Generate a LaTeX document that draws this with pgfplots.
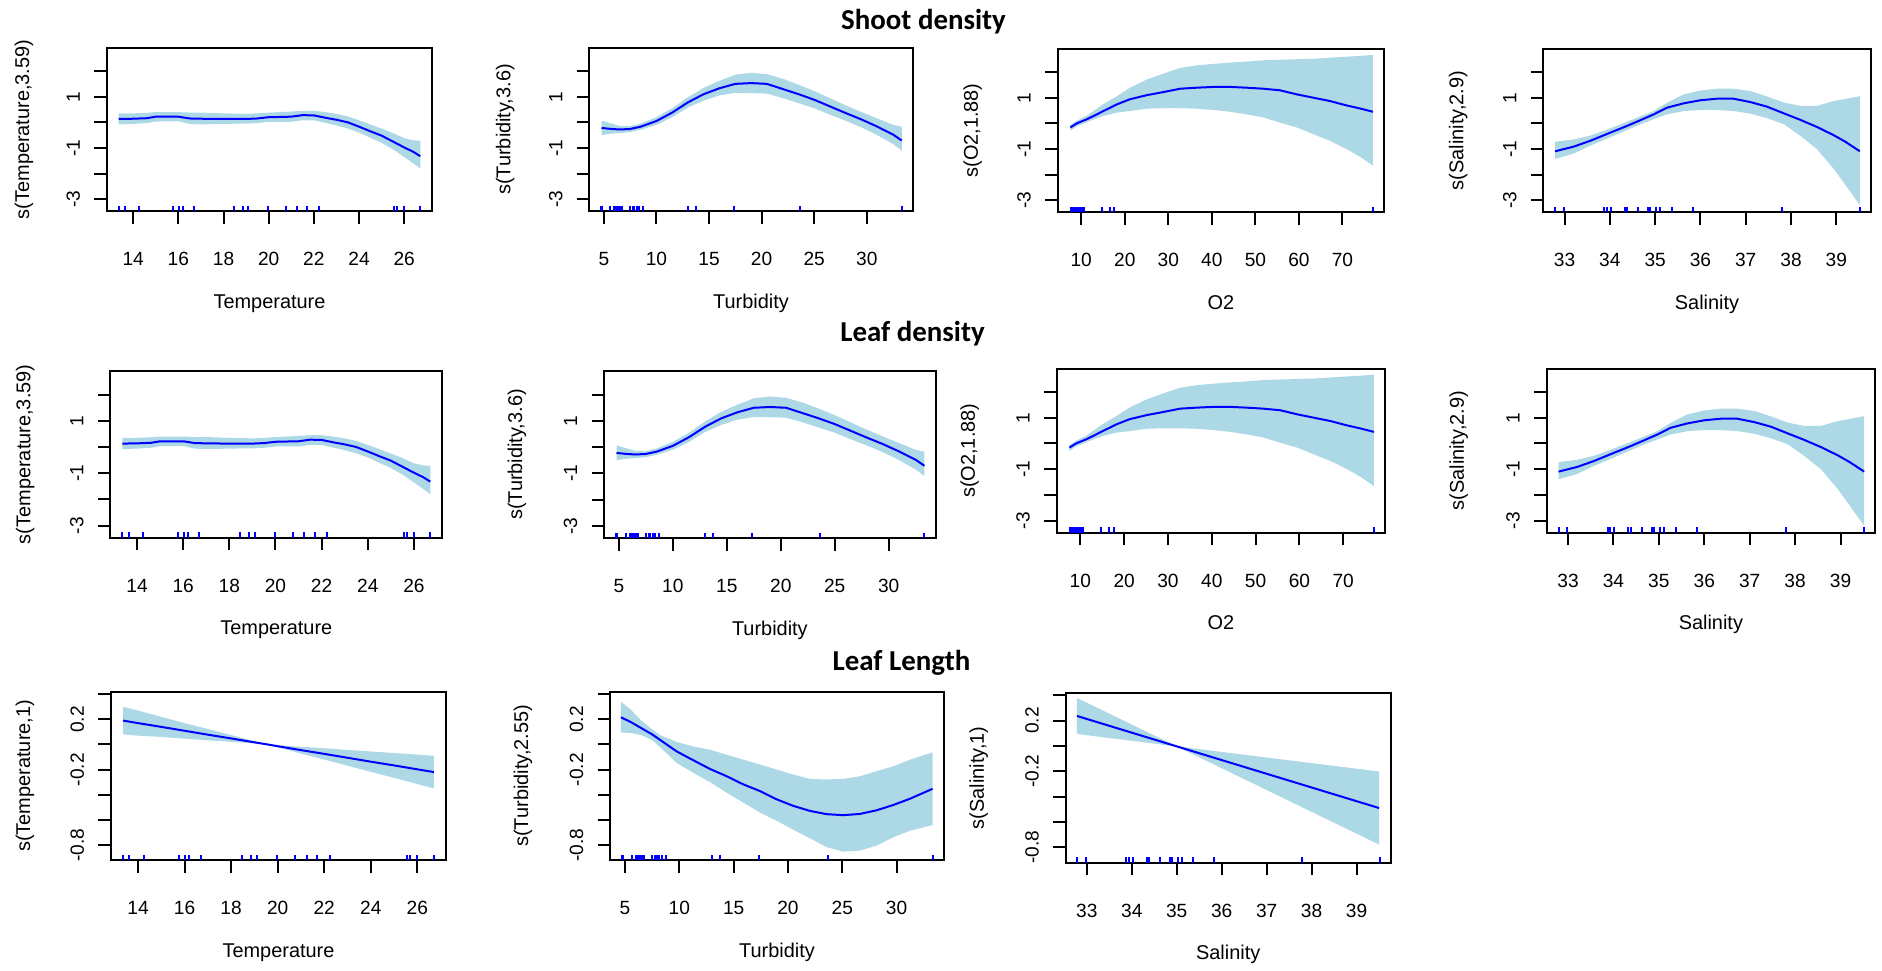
\documentclass[border=0pt]{standalone}
\usepackage{pgfplots}
\pgfplotsset{compat=1.18}
\usepackage{pgfplotstable}
\usepackage{fontspec}
\setmainfont{Liberation Sans}
\newfontfamily\titlefont{Carlito}
\definecolor{band}{RGB}{173,216,230}
\definecolor{fitblue}{RGB}{0,0,255}
\pgfdeclareplotmark{rug}{\pgfpathmoveto{\pgfpointorigin}\pgfpathlineto{\pgfpoint{0pt}{2.75bp}}\pgfusepathqstroke}

% ---------------- fitted smooths ----------------
\pgfplotstableread{
x fit
13.36 0.13
14.0 0.14
14.6 0.16
15.0 0.22
16.0 0.22
16.5 0.15
17.0 0.14
18.0 0.13
19.0 0.13
19.5 0.15
20.0 0.20
21.0 0.22
21.5 0.28
22.0 0.27
22.5 0.18
23.0 0.10
23.5 0.00
24.0 -0.17
24.5 -0.35
25.0 -0.52
25.5 -0.75
26.0 -0.98
26.4 -1.15
26.71 -1.32
}\tabTemp
\pgfplotstableread{
x y
13.36 0.35
14.0 0.35
14.6 0.37
15.0 0.40
16.0 0.40
16.5 0.38
17.0 0.38
18.0 0.35
19.0 0.33
19.5 0.35
20.0 0.38
21.0 0.42
21.5 0.45
22.0 0.45
22.5 0.40
23.0 0.33
23.5 0.23
24.0 0.08
24.5 -0.08
25.0 -0.25
25.5 -0.42
26.0 -0.62
26.4 -0.70
26.71 -0.72
26.71 -1.80
26.4 -1.60
26.0 -1.35
25.5 -1.05
25.0 -0.80
24.5 -0.60
24.0 -0.40
23.5 -0.24
23.0 -0.12
22.5 -0.02
22.0 0.08
21.5 0.08
21.0 0.02
20.0 0.02
19.5 -0.03
19.0 -0.05
18.0 -0.06
17.0 -0.08
16.5 -0.06
16.0 0.04
15.0 0.03
14.6 -0.03
14.0 -0.06
13.36 -0.08
}\bandTemp

\pgfplotstableread{
x fit
4.78 -0.22
5.5 -0.25
6.5 -0.28
7.5 -0.26
8.5 -0.17
10 0.05
11.5 0.38
13 0.78
14.5 1.10
16 1.33
17.5 1.50
19 1.53
20.5 1.50
22 1.30
23.5 1.10
25 0.88
26.5 0.62
28 0.36
29.5 0.11
31 -0.17
32.5 -0.48
33.32 -0.71
}\tabTurb
\pgfplotstableread{
x y
4.78 0.07
5.5 -0.02
6.5 -0.14
7.5 -0.15
8.5 -0.05
10 0.20
11.5 0.55
13 0.98
14.5 1.35
16 1.62
17.5 1.86
19 1.93
20.5 1.88
22 1.70
23.5 1.47
25 1.22
26.5 0.94
28 0.66
29.5 0.40
31 0.15
32.5 -0.10
33.32 -0.17
33.32 -1.10
32.5 -0.85
31 -0.50
29.5 -0.20
28 0.06
26.5 0.30
25 0.55
23.5 0.75
22 0.95
20.5 1.12
19 1.14
17.5 1.15
16 1.05
14.5 0.85
13 0.58
11.5 0.20
10 -0.10
8.5 -0.29
7.5 -0.38
6.5 -0.42
5.5 -0.45
4.78 -0.50
}\bandTurb

\pgfplotstableread{
x fit
7.5 -0.16
9 0.00
11.3 0.16
13 0.30
15.1 0.48
18.2 0.74
21.2 0.94
25.1 1.10
28.9 1.22
32.7 1.35
36.5 1.39
40.4 1.42
44.2 1.42
48 1.39
51.8 1.35
55.6 1.29
59.5 1.13
63.3 1.00
67.1 0.87
70.9 0.70
74 0.58
77.0 0.45
}\tabOxy
\pgfplotstableread{
x y
7.5 -0.07
9 0.10
11.3 0.30
13 0.50
15.1 0.75
18.2 1.06
21.2 1.39
25.1 1.71
28.9 1.94
32.7 2.16
36.5 2.26
40.4 2.32
44.2 2.37
48 2.41
51.8 2.46
55.6 2.48
59.5 2.50
63.3 2.52
67.1 2.56
70.9 2.60
74 2.63
77.0 2.67
77.0 -1.65
74 -1.30
70.9 -1.00
67.1 -0.68
63.3 -0.42
59.5 -0.16
55.6 0.03
51.8 0.23
48 0.35
44.2 0.45
40.4 0.52
36.5 0.57
32.7 0.59
28.9 0.59
25.1 0.57
21.2 0.48
18.2 0.42
15.1 0.29
13 0.16
11.3 0.05
9 -0.12
7.5 -0.29
}\bandOxy

\pgfplotstableread{
x fit
32.79 -1.09
33.2 -0.91
33.57 -0.68
33.93 -0.42
34.38 -0.10
34.67 0.12
34.97 0.35
35.26 0.61
35.63 0.78
36.0 0.90
36.36 0.96
36.73 0.96
37.1 0.83
37.47 0.65
37.84 0.39
38.2 0.14
38.57 -0.14
38.94 -0.46
39.2 -0.72
39.52 -1.09
}\tabSal
\pgfplotstableread{
x y
32.79 -0.72
33.2 -0.63
33.57 -0.48
33.93 -0.25
34.38 0.06
34.67 0.27
34.97 0.48
35.26 0.80
35.63 1.13
36.0 1.28
36.36 1.35
36.73 1.35
37.1 1.26
37.47 1.05
37.84 0.81
38.2 0.68
38.57 0.68
38.94 0.87
39.2 0.95
39.52 1.06
39.52 -3.19
39.2 -2.40
38.94 -1.77
38.57 -1.00
38.2 -0.48
37.84 -0.03
37.47 0.20
37.1 0.38
36.73 0.48
36.36 0.52
36.0 0.52
35.63 0.48
35.26 0.35
34.97 0.16
34.67 -0.04
34.38 -0.26
33.93 -0.60
33.57 -0.87
33.2 -1.18
32.79 -1.39
}\bandSal

\pgfplotstableread{
x fit
13.36 0.190
14 0.170
15 0.140
16 0.109
17 0.078
18 0.048
19 0.017
19.5 0.002
20 -0.014
21 -0.045
22 -0.075
23 -0.106
24 -0.137
25 -0.167
26 -0.198
26.71 -0.220
}\tabTempL
\pgfplotstableread{
x y
13.36 0.300
14 0.270
15 0.220
16 0.170
17 0.123
18 0.075
19 0.026
19.5 0.004
20 -0.005
21 -0.018
22 -0.030
23 -0.043
24 -0.056
25 -0.068
26 -0.081
26.71 -0.090
26.71 -0.350
26 -0.315
25 -0.266
24 -0.218
23 -0.169
22 -0.120
21 -0.072
20 -0.023
19.5 0.000
19 0.008
18 0.021
17 0.033
16 0.046
15 0.060
14 0.070
13.36 0.080
}\bandTempL

\pgfplotstableread{
x fit
4.63 0.216
5.5 0.180
6.5 0.130
7.5 0.080
8.22 0.037
9.75 -0.055
11.29 -0.126
12.82 -0.195
14.36 -0.253
15.89 -0.318
17.42 -0.371
18.96 -0.437
20.49 -0.489
22.02 -0.529
23.56 -0.555
25.09 -0.563
26.63 -0.553
28.16 -0.524
29.69 -0.482
31.23 -0.432
33.31 -0.353
}\tabTurbL
\pgfplotstableread{
x y
4.63 0.340
5.5 0.280
6.5 0.190
7.5 0.120
8.22 0.075
9.75 0.020
11.29 -0.016
12.82 -0.042
14.36 -0.082
15.89 -0.121
17.42 -0.160
18.96 -0.200
20.49 -0.240
22.02 -0.274
23.56 -0.279
25.09 -0.274
26.63 -0.253
28.16 -0.213
29.69 -0.174
31.23 -0.121
33.31 -0.063
33.31 -0.642
31.23 -0.687
29.69 -0.739
28.16 -0.805
26.63 -0.845
25.09 -0.853
23.56 -0.818
22.02 -0.747
20.49 -0.679
18.96 -0.608
17.42 -0.542
15.89 -0.463
14.36 -0.384
12.82 -0.300
11.29 -0.226
9.75 -0.147
8.22 -0.020
7.5 0.035
6.5 0.075
5.5 0.092
4.63 0.095
}\bandTurbL

\pgfplotstableread{
x fit
32.78 0.237
33 0.213
33.5 0.159
34 0.105
34.5 0.051
35 -0.003
35.5 -0.057
36 -0.111
36.5 -0.165
37 -0.219
37.5 -0.273
38 -0.327
38.5 -0.381
39 -0.435
39.5 -0.489
}\tabSalL
\pgfplotstableread{
x y
32.78 0.379
33 0.341
33.5 0.255
34 0.169
34.5 0.083
35 -0.001
35.5 -0.025
36 -0.047
36.5 -0.069
37 -0.091
37.5 -0.113
38 -0.135
38.5 -0.157
39 -0.179
39.5 -0.201
39.5 -0.777
39 -0.691
38.5 -0.605
38 -0.519
37.5 -0.433
37 -0.347
36.5 -0.261
36 -0.175
35.5 -0.089
35 -0.005
34.5 0.019
34 0.041
33.5 0.063
33 0.085
32.78 0.095
}\bandSalL

% ---------------- rugs (y at the bottom of rows 1-2: yA, of row 3: yB) ----------------
\pgfplotstableread{
x yA yB
13.36 -3.46 -0.92
13.63 -3.46 -0.92
14.27 -3.46 -0.92
15.77 -3.46 -0.92
16.02 -3.46 -0.92
16.19 -3.46 -0.92
16.70 -3.46 -0.92
18.48 -3.46 -0.92
18.85 -3.46 -0.92
19.10 -3.46 -0.92
19.96 -3.46 -0.92
20.76 -3.46 -0.92
21.25 -3.46 -0.92
21.71 -3.46 -0.92
22.23 -3.46 -0.92
25.56 -3.46 -0.92
25.70 -3.46 -0.92
26.00 -3.46 -0.92
26.71 -3.46 -0.92
}\rugTemp
\pgfplotstableread{
x yA yB
4.70 -3.46 -0.92
4.85 -3.46 -0.92
5.63 -3.46 -0.92
6.01 -3.46 -0.92
6.20 -3.46 -0.92
6.33 -3.46 -0.92
6.46 -3.46 -0.92
6.58 -3.46 -0.92
6.74 -3.46 -0.92
7.53 -3.46 -0.92
7.75 -3.46 -0.92
7.91 -3.46 -0.92
8.16 -3.46 -0.92
8.39 -3.46 -0.92
8.73 -3.46 -0.92
13.00 -3.46 -0.92
13.76 -3.46 -0.92
17.34 -3.46 -0.92
23.67 -3.46 -0.92
33.32 -3.46 -0.92
}\rugTurb
\pgfplotstableread{
x yA
7.6 -3.46
7.9 -3.46
8.2 -3.46
8.5 -3.46
8.9 -3.46
9.3 -3.46
9.6 -3.46
9.9 -3.46
10.3 -3.46
10.6 -3.46
14.7 -3.46
16.6 -3.46
17.6 -3.46
77.0 -3.46
}\rugOxy
\pgfplotstableread{
x yA yB
32.79 -3.46 -0.92
32.98 -3.46 -0.92
33.88 -3.46 -0.92
33.93 -3.46 -0.92
34.02 -3.46 -0.92
34.33 -3.46 -0.92
34.38 -3.46 -0.92
34.63 -3.46 -0.92
34.84 -3.46 -0.92
34.89 -3.46 -0.92
35.02 -3.46 -0.92
35.11 -3.46 -0.92
35.37 -3.46 -0.92
35.83 -3.46 -0.92
37.79 -3.46 -0.92
39.52 -3.46 -0.92
}\rugSal

\pgfplotsset{
  gam/.style={
    scale only axis, anchor=south west,
    axis line style={line width=1bp},
    tick style={black, line width=1bp},
    tick align=outside, major tick length=6.25bp,
    xtick pos=left, ytick pos=left,
    /pgf/number format/assume math mode=true,
    tick label style={font=\fontsize{9.6}{11}\selectfont},
    label style={font=\fontsize{10}{12}\selectfont},
    xticklabel style={anchor=base, yshift=-21bp},
    yticklabel style={xshift=-7.25bp, rotate=90, anchor=base},
    every axis x label/.style={at={(axis description cs:0.5,0)}, anchor=base, yshift=-48.5bp},
    every axis y label/.style={at={(axis description cs:0,0.5)}, anchor=center},
  },
  yl/.style={ylabel style={xshift=-#1, rotate=90}},
  bigrange/.style={ymin=-3.46, ymax=2.9, ytick={-3,-2,-1,0,1,2}, yticklabels={-3,,-1,,1,}},
  llrange/.style={ymin=-0.92, ymax=0.42, ytick={-0.8,-0.6,-0.4,-0.2,0,0.2,0.4}, yticklabels={-0.8,,,-0.2,,0.2,}},
  tempx/.style={xmin=12.84, xmax=27.23, xtick={14,16,18,20,22,24,26}, xlabel={Temperature}},
  turbx/.style={xmin=3.62, xmax=34.36, xtick={5,10,15,20,25,30}, xlabel={Turbidity}},
  oxyx/.style={xmin=4.6, xmax=79.6, xtick={10,20,30,40,50,60,70}, xlabel={O2}},
  salx/.style={xmin=32.53, xmax=39.76, xtick={33,34,35,36,37,38,39}, xlabel={Salinity}},
}

% one panel: #1 band polygon, #2 fit table, #3 rug table, #4 rug y column
\newcommand{\panel}[4]{%
  \addplot[fill=band, draw=none] table[x=x, y=y] {#1} -- cycle;
  \addplot[fitblue, line width=1bp, no marks] table[x=x, y=fit] {#2};
  \addplot[only marks, mark=rug, fitblue, mark options={line width=1bp}] table[x=x, y=#4] {#3};
}

\begin{document}
\begin{tikzpicture}
\useasboundingbox (0,0) rectangle (941bp,-485.5bp);

\node[anchor=base, font={\titlefont\bfseries\fontsize{14.5}{17}\selectfont}] at (461.75bp,-14.65bp) {Shoot density};
\node[anchor=base, font={\titlefont\bfseries\fontsize{14.5}{17}\selectfont}] at (456.25bp,-170.85bp) {Leaf density};
\node[anchor=base, font={\titlefont\bfseries\fontsize{14.5}{17}\selectfont}] at (450.75bp,-335bp) {Leaf Length};

% ---- row 1: Shoot density ----
\begin{axis}[gam, bigrange, tempx, at={(53.5bp,-105.5bp)}, width=162.5bp, height=81.5bp, ylabel={s(Temperature,3.59)}, yl=41.5bp]
\panel{\bandTemp}{\tabTemp}{\rugTemp}{yA}
\end{axis}
\begin{axis}[gam, bigrange, turbx, at={(294.65bp,-105.5bp)}, width=161.7bp, height=81.5bp, ylabel={s(Turbidity,3.6)}, yl=42bp]
\panel{\bandTurb}{\tabTurb}{\rugTurb}{yA}
\end{axis}
\begin{axis}[gam, bigrange, oxyx, at={(528.85bp,-106bp)}, width=163.3bp, height=81.5bp, ylabel={s(O2,1.88)}, yl=42.5bp]
\panel{\bandOxy}{\tabOxy}{\rugOxy}{yA}
\end{axis}
\begin{axis}[gam, bigrange, salx, at={(771.65bp,-106bp)}, width=163.7bp, height=81.5bp, ylabel={s(Salinity,2.9)}, yl=42.5bp]
\panel{\bandSal}{\tabSal}{\rugSal}{yA}
\end{axis}

% ---- row 2: Leaf density ----
\begin{axis}[gam, bigrange, tempx, at={(55.15bp,-268.85bp)}, width=166bp, height=83.35bp, ylabel={s(Temperature,3.59)}, yl=42.5bp]
\panel{\bandTemp}{\tabTemp}{\rugTemp}{yA}
\end{axis}
\begin{axis}[gam, bigrange, turbx, at={(302bp,-269bp)}, width=165.85bp, height=83.5bp, ylabel={s(Turbidity,3.6)}, yl=43.5bp]
\panel{\bandTurb}{\tabTurb}{\rugTurb}{yA}
\end{axis}
\begin{axis}[gam, bigrange, oxyx, at={(528.35bp,-266.35bp)}, width=164.3bp, height=82bp, ylabel={s(O2,1.88)}, yl=43.5bp]
\panel{\bandOxy}{\tabOxy}{\rugOxy}{yA}
\end{axis}
\begin{axis}[gam, bigrange, salx, at={(773.35bp,-266.35bp)}, width=164.15bp, height=82bp, ylabel={s(Salinity,2.9)}, yl=44bp]
\panel{\bandSal}{\tabSal}{\rugSal}{yA}
\end{axis}

% ---- row 3: Leaf Length ----
\begin{axis}[gam, llrange, tempx, at={(55.5bp,-430bp)}, width=167.5bp, height=84.15bp, ylabel={s(Temperature,1)}, yl=43bp]
\panel{\bandTempL}{\tabTempL}{\rugTemp}{yB}
\end{axis}
\begin{axis}[gam, llrange, turbx, at={(305bp,-430bp)}, width=167bp, height=84.15bp, ylabel={s(Turbidity,2.55)}, yl=43.5bp]
\panel{\bandTurbL}{\tabTurbL}{\rugTurb}{yB}
\end{axis}
\begin{axis}[gam, llrange, salx, at={(532.85bp,-431.35bp)}, width=162.5bp, height=85bp, ylabel={s(Salinity,1)}, yl=43.5bp]
\panel{\bandSalL}{\tabSalL}{\rugSal}{yB}
\end{axis}
\end{tikzpicture}
\end{document}
